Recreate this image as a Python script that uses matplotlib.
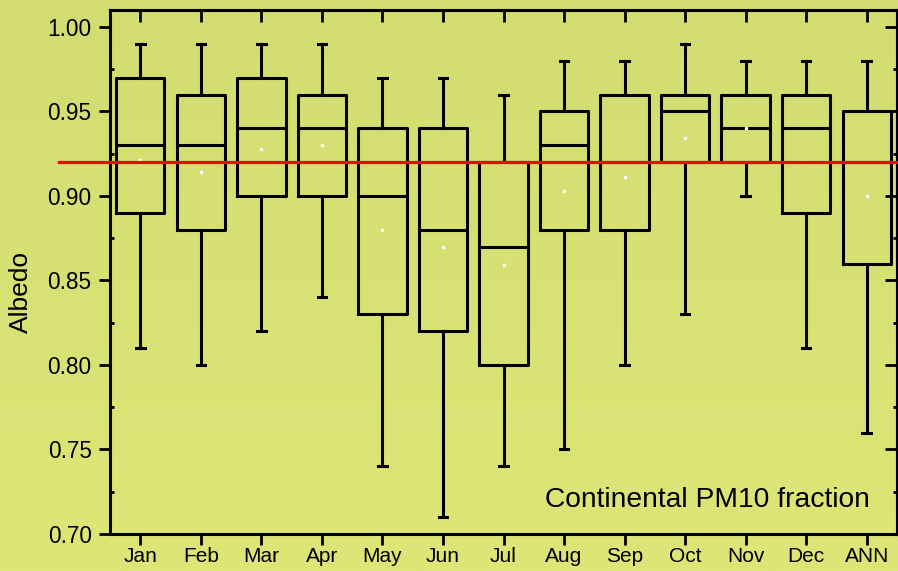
import matplotlib
matplotlib.use("Agg")
import matplotlib.pyplot as plt
import numpy as np
from matplotlib.colors import LinearSegmentedColormap

plt.rcParams['font.family'] = ['Liberation Sans', 'DejaVu Sans']

months = ["Jan", "Feb", "Mar", "Apr", "May", "Jun", "Jul", "Aug", "Sep", "Oct", "Nov", "Dec", "ANN"]
whislo = [0.81, 0.80, 0.82, 0.84, 0.74, 0.71, 0.74, 0.75, 0.80, 0.83, 0.90, 0.81, 0.76]
q1     = [0.89, 0.88, 0.90, 0.90, 0.83, 0.82, 0.80, 0.88, 0.88, 0.92, 0.92, 0.89, 0.86]
med    = [0.93, 0.93, 0.94, 0.94, 0.90, 0.88, 0.87, 0.93, 0.92, 0.95, 0.94, 0.94, 0.92]
q3     = [0.97, 0.96, 0.97, 0.96, 0.94, 0.94, 0.92, 0.95, 0.96, 0.96, 0.96, 0.96, 0.95]
whishi = [0.99, 0.99, 0.99, 0.99, 0.97, 0.97, 0.96, 0.98, 0.98, 0.99, 0.98, 0.98, 0.98]
means  = [0.921, 0.914, 0.928, 0.930, 0.880, 0.870, 0.859, 0.903, 0.911, 0.934, 0.940, 0.920, 0.900]
ref_value = 0.92
yticks = [0.70, 0.75, 0.80, 0.85, 0.90, 0.95, 1.00]
annotation = "Continental PM10 fraction"
ylabel = "Albedo"

fig = plt.figure(figsize=(8.98, 5.71), dpi=100)

# background gradient
bg = fig.add_axes([0, 0, 1, 1], zorder=-10)
cmap = LinearSegmentedColormap.from_list("bg", ["#d2dc70", "#dee677"])
bg.imshow(np.linspace(0, 1, 256).reshape(-1, 1), aspect="auto", cmap=cmap,
          extent=[0, 1, 0, 1], origin="upper")
bg.set_axis_off()

ax = fig.add_axes([110/898, 1 - 534/571, 787/898, 524/571])
ax.patch.set_alpha(0)

stats = []
for i, m in enumerate(months):
    stats.append(dict(label=m, whislo=whislo[i], q1=q1[i], med=med[i],
                      q3=q3[i], whishi=whishi[i], fliers=[]))
pos = np.arange(1, len(months) + 1)
lw = 2.2
ax.bxp(stats, positions=pos, widths=0.8, capwidths=0.14, showfliers=False,
       boxprops=dict(color="black", linewidth=lw),
       whiskerprops=dict(color="black", linewidth=lw),
       capprops=dict(color="black", linewidth=lw),
       medianprops=dict(color="black", linewidth=lw))
ax.plot(pos, means, linestyle="none", marker="s", markersize=1.5,
        color="white", zorder=5)

ax.plot([-0.065, 1.0], [ref_value, ref_value], color="#ff0000", linewidth=2.3,
        transform=ax.get_yaxis_transform(), clip_on=False, zorder=6)

ax.set_xlim(0.5, len(months) + 0.5)
ax.set_ylim(0.70, 1.01)
ax.set_yticks(yticks)
ax.set_yticklabels([f"{v:.2f}" for v in yticks])
ax.set_yticks(np.arange(0.725, 1.0, 0.05), minor=True)
ax.set_xticks(pos)
ax.set_xticklabels(months)

for s in ax.spines.values():
    s.set_linewidth(2.2)

ax.tick_params(axis="both", which="major", direction="out", length=8.2, width=2)
ax.tick_params(axis="y", which="major", pad=5, labelsize=16.3)
ax.tick_params(axis="x", which="major", pad=1, labelsize=15)
ax.tick_params(axis="y", which="minor", direction="in", length=3, width=2)
ax.tick_params(axis="x", which="minor", bottom=False)

secx = ax.secondary_xaxis("top")
secx.set_xticks(pos)
secx.tick_params(direction="in", length=8.5, width=2, labeltop=False)
secx.spines["top"].set_linewidth(2.2)
secy = ax.secondary_yaxis("right")
secy.set_yticks(yticks)
secy.set_yticks(np.arange(0.725, 1.0, 0.05), minor=True)
secy.tick_params(which="major", direction="in", length=8.5, width=2, labelright=False)
secy.tick_params(which="minor", direction="in", length=3, width=2)
secy.spines["right"].set_linewidth(2.2)

fig.text(21/898, 1 - 292/571, ylabel, rotation=90, ha="center", va="center",
         fontsize=19)
ax.text(0.966, 0.04, annotation, transform=ax.transAxes, ha="right",
        va="bottom", fontsize=20.3)

fig.savefig("out.png", dpi=100)
